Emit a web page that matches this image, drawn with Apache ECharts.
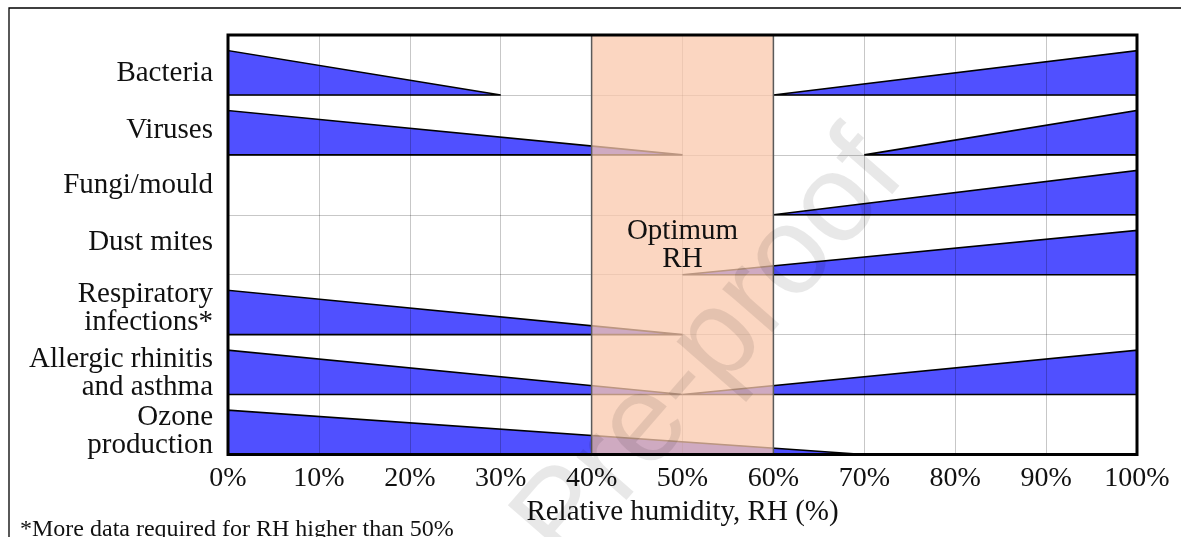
<!DOCTYPE html>
<html>
<head>
<meta charset="utf-8">
<script src="https://cdn.jsdelivr.net/npm/echarts@6/dist/echarts.min.js"></script>
<style>
  html, body { margin: 0; padding: 0; background: #fff; }
  #chart { width: 1181px; height: 537px; }
</style>
</head>
<body>
<div id="chart"></div>
<script>
// ---- Data ----
const categories = [
  'Bacteria',
  'Viruses',
  'Fungi/mould',
  'Dust mites',
  'Respiratory\ninfections*',
  'Allergic rhinitis\nand asthma',
  'Ozone\nproduction'
];
// Wedges on the low-RH side: [category, RH where effect is largest, RH where it vanishes]
const lowRHWedges = [
  ['Bacteria', 0, 30],
  ['Viruses', 0, 50],
  ['Respiratory\ninfections*', 0, 50],
  ['Allergic rhinitis\nand asthma', 0, 50],
  ['Ozone\nproduction', 0, 70]
];
// Wedges on the high-RH side: [category, RH where effect is largest, RH where it vanishes]
const highRHWedges = [
  ['Bacteria', 100, 60],
  ['Viruses', 100, 70],
  ['Fungi/mould', 100, 60],
  ['Dust mites', 100, 50],
  ['Allergic rhinitis\nand asthma', 100, 50]
];
const optimumRH = [40, 60];
const optimumLabel = 'Optimum\nRH';
const xTickValues = [0, 10, 20, 30, 40, 50, 60, 70, 80, 90, 100];
const xAxisName = 'Relative humidity, RH (%)';
const footnote = '*More data required for RH higher than 50%';
const watermark = 'Journal Pre-proof';

// ---- Styles ----
const SERIF = '"Liberation Serif", "Times New Roman", serif';
const WEDGE_HEIGHT = 0.74; // fraction of a row
const LABEL_SHIFT = [8, 5, 1, -2, 4, 9, 7]; // vertical nudge of each row label, px

const wedgeData = lowRHWedges.concat(highRHWedges).map(w => [w[1], w[2], categories.indexOf(w[0])]);

const labelRich = {};
LABEL_SHIFT.forEach((d, i) => {
  labelRich['s' + i] = {
    fontFamily: SERIF, fontSize: 29, lineHeight: 28, color: '#111', align: 'right',
    padding: d >= 0 ? [2 * d, 0, 0, 0] : [0, 0, -2 * d, 0]
  };
});

const chart = echarts.init(document.getElementById('chart'), null, { renderer: 'canvas' });

const option = {
  backgroundColor: '#fff',
  animation: false,
  grid: {
    left: 228, right: 44, top: 35, bottom: 82.5,
    show: true, borderColor: '#000', borderWidth: 3,
    backgroundColor: 'transparent', z: 10
  },
  xAxis: {
    type: 'value', min: 0, max: 100, interval: 10, z: 2,
    name: xAxisName, nameLocation: 'middle', nameGap: 39,
    nameTextStyle: { fontFamily: SERIF, fontSize: 29, color: '#111' },
    axisLine: { show: false }, axisTick: { show: false },
    axisLabel: {
      margin: 10, fontFamily: SERIF, fontSize: 28, color: '#111',
      formatter: v => xTickValues.includes(v) ? v + '%' : ''
    },
    splitLine: { show: true, lineStyle: { color: 'rgba(0,0,0,0.22)', width: 1 } }
  },
  yAxis: {
    type: 'category', data: categories, inverse: true, boundaryGap: true, z: 2,
    axisLine: { show: false }, axisTick: { show: false },
    axisLabel: {
      interval: 0, margin: 15, fontFamily: SERIF, fontSize: 29, lineHeight: 28, color: '#111', align: 'right',
      formatter: (value, index) => value.split('\n').map(line => '{s' + index + '|' + line + '}').join('\n'),
      rich: labelRich
    },
    splitLine: { show: true, interval: 0, lineStyle: { color: 'rgba(0,0,0,0.22)', width: 1 } }
  },
  series: [
    {
      type: 'custom', name: 'wedges', z: 1,
      data: wedgeData,
      encode: { x: [0, 1], y: 2 },
      renderItem: function (params, api) {
        const full = api.value(0), tip = api.value(1), cat = api.value(2);
        const pFull = api.coord([full, cat]);
        const pTip = api.coord([tip, cat]);
        const band = api.size([0, 1])[1];
        const base = pFull[1] + band / 2;
        const top = base - band * WEDGE_HEIGHT;
        return {
          type: 'polygon',
          shape: { points: [[pFull[0], base], [pFull[0], top], [pTip[0], base]] },
          style: { fill: '#5050ff', stroke: '#000', lineWidth: 1.6, lineJoin: 'miter' }
        };
      }
    },
    {
      type: 'custom', name: 'optimum', z: 3,
      data: [[optimumRH[0], optimumRH[1], categories.indexOf('Dust mites')]],
      encode: { x: [0, 1], y: 2 },
      renderItem: function (params, api) {
        const cs = params.coordSys;
        const x0 = api.coord([api.value(0), 0])[0];
        const x1 = api.coord([api.value(1), 0])[0];
        const labelPt = api.coord([(api.value(0) + api.value(1)) / 2, api.value(2)]);
        return {
          type: 'group',
          children: [
            {
              type: 'rect',
              shape: { x: x0, y: cs.y, width: x1 - x0, height: cs.height },
              style: { fill: 'rgba(250,200,172,0.75)', stroke: '#5a5a5a', lineWidth: 1.5 }
            },
            {
              type: 'text',
              x: labelPt[0], y: labelPt[1] + 1,
              style: {
                text: optimumLabel, fontFamily: SERIF, fontSize: 29, lineHeight: 28,
                fill: '#111', align: 'center', verticalAlign: 'middle'
              }
            }
          ]
        };
      }
    }
  ],
  graphic: [
    {
      type: 'rect', z: 20, silent: true,
      shape: { x: 9, y: 8, width: 1400, height: 800 },
      style: { fill: 'none', stroke: '#000', lineWidth: 1.3 }
    },
    {
      type: 'text', z: 20, left: 20, top: 518,
      style: { text: footnote, fontFamily: SERIF, fontSize: 24, fill: '#111' }
    },
    {
      type: 'text', z: 30, silent: true,
      x: 565, y: 518, rotation: 49 * Math.PI / 180,
      style: {
        text: watermark, fontFamily: '"Liberation Sans", Arial, sans-serif', fontSize: 125,
        fill: 'rgba(0,0,0,0.09)', align: 'center', verticalAlign: 'middle'
      }
    }
  ]
};
chart.setOption(option);
</script>
</body>
</html>
